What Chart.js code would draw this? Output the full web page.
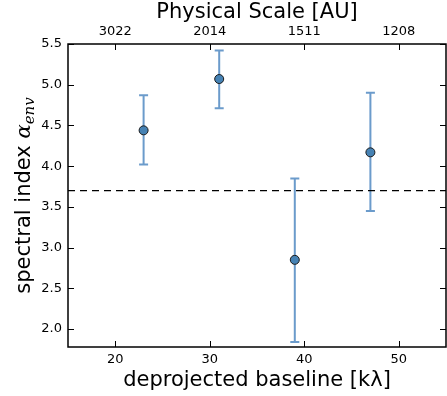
<!DOCTYPE html>
<html>
<head>
<meta charset="utf-8">
<script src="https://cdn.jsdelivr.net/npm/chart.js@4"></script>
<style>
  html, body { margin: 0; padding: 0; background: #fff; }
  #wrap { width: 447px; height: 396px; }
</style>
</head>
<body>
<div id="wrap"><canvas id="chart" width="447" height="396"></canvas></div>
<script>
// values
const baseline = [23, 31, 39, 47]
const alphaEnv = [4.44, 5.07, 2.85, 4.17]
const errLow = [4.02, 4.71, 1.84, 3.45]
const errHigh = [4.87, 5.42, 3.85, 4.90]
const threshold = 3.7
const xTicks = [20, 30, 40, 50]
const auLabels = ["3022", "2014", "1511", "1208"]
const yTicks = [2.0, 2.5, 3.0, 3.5, 4.0, 4.5, 5.0, 5.5]

Chart.defaults.font.family = "'DejaVu Sans', sans-serif"
Chart.defaults.color = "#000"

const points = baseline.map((x, i) => ({ x: x, y: alphaEnv[i] }))

const errorBars = {
  id: "errorBars",
  beforeDatasetsDraw(chart) {
    const { ctx, scales } = chart
    ctx.save()
    ctx.strokeStyle = "rgba(70,130,190,0.8)"
    ctx.lineWidth = 2
    baseline.forEach((b, i) => {
      const px = scales.x.getPixelForValue(b)
      const lo = scales.y.getPixelForValue(errLow[i])
      const hi = scales.y.getPixelForValue(errHigh[i])
      ctx.beginPath()
      ctx.moveTo(px, lo); ctx.lineTo(px, hi)
      ctx.moveTo(px - 4.5, lo); ctx.lineTo(px + 4.5, lo)
      ctx.moveTo(px - 4.5, hi); ctx.lineTo(px + 4.5, hi)
      ctx.stroke()
    })
    ctx.restore()
  },
}

const frame = {
  id: "frame",
  afterDraw(chart) {
    const { ctx, chartArea: a, scales } = chart
    ctx.save()
    ctx.strokeStyle = "#000"
    ctx.lineWidth = 1
    ctx.beginPath()
    xTicks.forEach((v) => {
      const px = Math.round(scales.x.getPixelForValue(v)) + 0.5
      ctx.moveTo(px, a.bottom); ctx.lineTo(px, a.bottom - 6)
      ctx.moveTo(px, a.top); ctx.lineTo(px, a.top + 6)
    })
    yTicks.forEach((v) => {
      const py = Math.round(scales.y.getPixelForValue(v)) + 0.5
      ctx.moveTo(a.left, py); ctx.lineTo(a.left + 6, py)
      ctx.moveTo(a.right, py); ctx.lineTo(a.right - 6, py)
    })
    ctx.stroke()
    ctx.lineWidth = 1.5
    ctx.strokeRect(a.left, a.top, a.right - a.left, a.bottom - a.top)

    // y axis title with math part
    ctx.translate(25, (a.top + a.bottom) / 2)
    ctx.rotate(-Math.PI / 2)
    ctx.fillStyle = "#000"
    ctx.textBaseline = "middle"
    const main = "spectral index "
    ctx.font = "21px 'DejaVu Sans'"
    const w1 = ctx.measureText(main).width
    ctx.font = "italic 21px 'DejaVu Serif'"
    const w2 = ctx.measureText("α").width
    ctx.font = "italic 15px 'DejaVu Serif'"
    const w3 = ctx.measureText("env").width
    let x0 = -(w1 + w2 + w3) / 2
    ctx.font = "21px 'DejaVu Sans'"
    ctx.fillText(main, x0, 0)
    ctx.font = "italic 21px 'DejaVu Serif'"
    ctx.fillText("α", x0 + w1, 0)
    ctx.font = "italic 15px 'DejaVu Serif'"
    ctx.fillText("env", x0 + w1 + w2, 5)
    ctx.restore()
  },
}

const noMargins = (s) => { s.paddingLeft = 0; s.paddingRight = 0 }

new Chart(document.getElementById("chart"), {
  type: "scatter",
  data: {
    datasets: [
      {
        data: points,
        pointRadius: 4.5,
        pointHoverRadius: 4.5,
        pointBackgroundColor: "#4682b4",
        pointBorderColor: "#1a1a1a",
        pointBorderWidth: 1,
        order: 1,
      },
      {
        type: "line",
        data: [{ x: 15, y: threshold }, { x: 55, y: threshold }],
        borderColor: "#000",
        borderWidth: 1.4,
        borderDash: [7, 5],
        pointRadius: 0,
        order: 2,
      },
    ],
  },
  options: {
    responsive: false,
    animation: false,
    layout: { autoPadding: false, padding: { left: 0, right: 1, top: 0, bottom: 0 } },
    plugins: { legend: { display: false }, tooltip: { enabled: false } },
    scales: {
      x: {
        type: "linear",
        position: "bottom",
        min: 15,
        max: 55,
        afterBuildTicks: (s) => { s.ticks = xTicks.map((v) => ({ value: v })) },
        afterFit: (s) => { s.height = 49; noMargins(s) },
        grid: { display: false, drawTicks: false },
        border: { display: false },
        ticks: { font: { size: 13 }, padding: 5, maxRotation: 0 },
        title: {
          display: true,
          text: "deprojected baseline [kλ]",
          font: { size: 21 },
          padding: { top: 0, bottom: 3 },
        },
      },
      x2: {
        type: "linear",
        position: "top",
        min: 15,
        max: 55,
        afterBuildTicks: (s) => { s.ticks = xTicks.map((v) => ({ value: v })) },
        afterFit: (s) => { s.height = 44; noMargins(s) },
        grid: { display: false, drawTicks: false },
        border: { display: false },
        ticks: {
          font: { size: 13 },
          padding: 5,
          maxRotation: 0,
          callback: (v, i) => auLabels[i],
        },
        title: {
          display: true,
          text: "Physical Scale [AU]",
          font: { size: 21 },
          padding: { top: 0, bottom: 0 },
        },
      },
      y: {
        min: 1.78,
        max: 5.5,
        afterBuildTicks: (s) => { s.ticks = yTicks.map((v) => ({ value: v })) },
        afterFit: (s) => { s.width = 68 },
        grid: { display: false, drawTicks: false },
        border: { display: false },
        ticks: { font: { size: 13 }, padding: 6, callback: (v) => v.toFixed(1) },
      },
    },
  },
  plugins: [errorBars, frame],
})
</script>
</body>
</html>
